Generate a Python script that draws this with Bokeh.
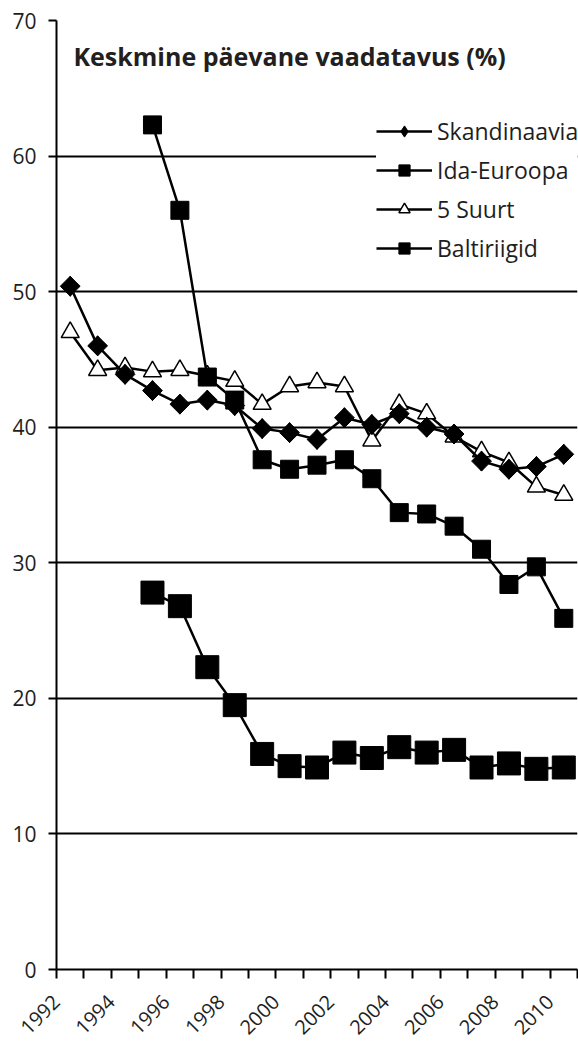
import numpy as np
from bokeh.plotting import figure
from bokeh.models import FixedTicker, Label, Legend, LegendItem, Range1d
from bokeh.embed import file_html
from bokeh.resources import INLINE

# ---- data ----
years = list(range(1992, 2011))
years_late = list(range(1995, 2011))

skandinaavia = [50.4, 46.0, 43.9, 42.7, 41.7, 42.0, 41.6, 39.9, 39.6, 39.1,
                40.7, 40.2, 41.0, 40.0, 39.5, 37.5, 36.9, 37.1, 38.0]
suurt5 = [47.0, 44.2, 44.4, 44.1, 44.2, 43.8, 43.4, 41.7, 43.0, 43.3,
          43.0, 39.0, 41.7, 41.0, 39.3, 38.2, 37.4, 35.6, 35.0]
ida_euroopa = [62.3, 56.0, 43.7, 42.0, 37.6, 36.9, 37.2, 37.6, 36.2, 33.7,
               33.6, 32.7, 31.0, 28.4, 29.7, 25.9]
baltiriigid = [27.8, 26.8, 22.3, 19.5, 15.9, 15.0, 14.9, 16.0, 15.6, 16.4,
               16.0, 16.2, 14.9, 15.2, 14.8, 14.9]

series_names = ["Skandinaavia", "Ida-Euroopa", "5 Suurt", "Baltiriigid"]
x_tick_labels = ["1992", "1994", "1996", "1998", "2000", "2002", "2004", "2006", "2008", "2010"]
y_ticks = [0, 10, 20, 30, 40, 50, 60, 70]
title_text = "Keskmine päevane vaadatavus (%)"

FONT = "Open Sans"
TXT = "#1e1e1e"

p = figure(width=578, height=1043, output_backend="svg", toolbar_location=None,
           x_range=Range1d(1991.5, 2010.5), y_range=Range1d(0, 70),
           min_border_left=56, min_border_right=1, min_border_top=20, min_border_bottom=74,
           background_fill_color="white", border_fill_color="white")
p.outline_line_color = None
p.xgrid.visible = False

# y axis & grid
p.yaxis.ticker = FixedTicker(ticks=y_ticks)
p.ygrid.ticker = FixedTicker(ticks=y_ticks)
p.ygrid.grid_line_color = "black"
p.ygrid.grid_line_width = 2
p.yaxis.major_tick_out = 8
p.yaxis.major_tick_in = 0
p.yaxis.minor_tick_line_color = None
p.yaxis.major_label_standoff = 12

# x axis: ticks between categories, labels every other year
x_ticks = [y - 0.5 for y in years] + [years[-1] + 0.5]
overrides = {t: "" for t in x_ticks}
for lbl in x_tick_labels:
    overrides[int(lbl) - 0.5] = lbl
p.xaxis.ticker = FixedTicker(ticks=x_ticks)
p.xaxis.major_label_overrides = overrides
p.xaxis.major_label_orientation = np.pi / 4
p.xaxis.major_tick_out = 9
p.xaxis.major_tick_in = 0
p.xaxis.minor_tick_line_color = None
p.xaxis.major_label_standoff = 20

for ax in (p.xaxis, p.yaxis):
    ax.axis_line_color = "black"
    ax.axis_line_width = 2
    ax.major_tick_line_color = "black"
    ax.major_tick_line_width = 2
    ax.major_label_text_font = FONT
    ax.major_label_text_font_size = "21px"
    ax.major_label_text_color = TXT
p.xaxis.major_label_text_font_size = "20px"

# series
l_5s = p.line(years, suurt5, line_color="black", line_width=2.5)
s_5s = p.scatter(years, suurt5, marker="triangle", size=18, fill_color="white",
                 line_color="black", line_width=1.5)
l_sk = p.line(years, skandinaavia, line_color="black", line_width=2.5)
s_sk_dia = p.scatter(years, skandinaavia, marker="diamond", size=20,
                     fill_color="black", line_color="black")
s_sk = p.scatter(years, skandinaavia, marker="square", angle=np.pi / 4, size=14,
                 fill_color="black", line_color="black")
l_ie = p.line(years_late, ida_euroopa, line_color="black", line_width=2.5)
s_ie = p.scatter(years_late, ida_euroopa, marker="square", size=18,
                 fill_color="black", line_color="black")
l_bt = p.line(years_late, baltiriigid, line_color="black", line_width=2.5)
s_bt = p.scatter(years_late, baltiriigid, marker="square", size=23,
                 fill_color="black", line_color="black")

legend = Legend(items=[
    LegendItem(label=series_names[0], renderers=[l_sk, s_sk_dia]),
    LegendItem(label=series_names[1], renderers=[l_ie, s_ie]),
    LegendItem(label=series_names[2], renderers=[l_5s, s_5s]),
    LegendItem(label=series_names[3], renderers=[l_bt, s_bt]),
], location=(320, 705), glyph_width=56, glyph_height=28, label_height=28,
    label_width=170, spacing=7, padding=16, label_standoff=5, margin=0,
    label_text_font=FONT, label_text_font_size="23px", label_text_color=TXT,
    border_line_color=None, background_fill_color="white", background_fill_alpha=1)
p.add_layout(legend)

title = Label(x=17, y=914, x_units="screen", y_units="screen", text=title_text,
              text_font=FONT, text_font_style="bold", text_font_size="25px",
              text_color="#231f20", text_baseline="alphabetic")
p.add_layout(title)

open("out.html", "w").write(file_html(p, INLINE))
